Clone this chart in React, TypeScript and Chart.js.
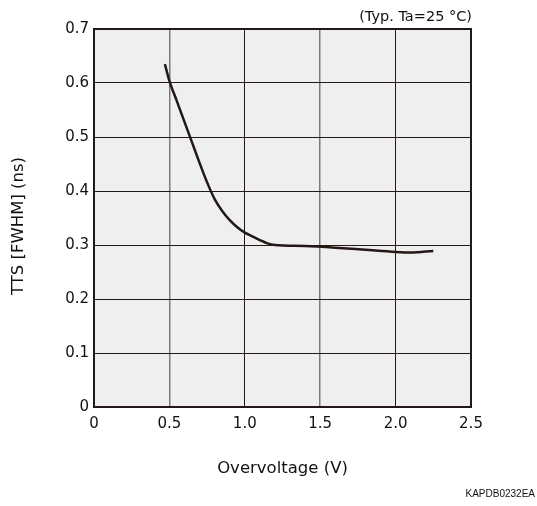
import React, { useEffect, useRef } from "react";
import { Chart, registerables } from "chart.js";

Chart.register(...registerables);

const overvoltage = [0.47, 0.5, 0.55, 0.6, 0.65, 0.7, 0.75, 0.8, 0.85, 0.9, 0.95, 1.0, 1.05, 1.1, 1.15, 1.2, 1.4, 1.6, 1.8, 2.0, 2.1, 2.25];
const ttsFwhm = [0.635, 0.604, 0.566, 0.528, 0.49, 0.452, 0.416, 0.385, 0.363, 0.346, 0.333, 0.323, 0.316, 0.309, 0.303, 0.300, 0.298, 0.295, 0.291, 0.287, 0.286, 0.289];
const xTickLabels = ["0", "0.5", "1.0", "1.5", "2.0", "2.5"];
const yTickLabels = ["0", "0.1", "0.2", "0.3", "0.4", "0.5", "0.6", "0.7"];
const xTitle = "Overvoltage (V)";
const yTitle = "TTS [FWHM] (ns)";
const noteText = "(Typ. Ta=25 °C)";
const codeText = "KAPDB0232EA";

const FONT = "'DejaVu Sans', Verdana, sans-serif";
const DARK = "#231815";

export default function App() {
  const ref = useRef<HTMLCanvasElement>(null);
  useEffect(() => {
    if (!ref.current) return;
    const bgPlugin = {
      id: "bg",
      beforeDraw(chart: any) {
        const { ctx, chartArea: a } = chart;
        ctx.save();
        ctx.fillStyle = "#efefef";
        ctx.fillRect(a.left, a.top, a.right - a.left, a.bottom - a.top);
        ctx.restore();
      },
      afterDatasetsDraw(chart: any) {
        const { ctx, chartArea: a } = chart;
        ctx.save();
        ctx.strokeStyle = DARK;
        ctx.lineWidth = 2;
        ctx.strokeRect(a.left, a.top, a.right - a.left, a.bottom - a.top);
        ctx.fillStyle = "#111";
        ctx.font = `14.5px ${FONT}`;
        ctx.textAlign = "right";
        ctx.textBaseline = "alphabetic";
        ctx.fillText(noteText, a.right + 1, 21);
        ctx.font = `10px 'Liberation Sans Narrow', 'Liberation Sans', sans-serif`;
        ctx.fillText(codeText, 535, 497);
        ctx.font = `16.5px ${FONT}`;
        ctx.textAlign = "center";
        ctx.textBaseline = "middle";
        ctx.fillText(xTitle, (a.left + a.right) / 2, 469);
        ctx.translate(19, 226);
        ctx.rotate(-Math.PI / 2);
        ctx.fillText(yTitle, 0, 0);
        ctx.restore();
      },
    };
    const chart = new Chart(ref.current, {
      type: "line",
      data: {
        datasets: [
          {
            data: overvoltage.map((x, i) => ({ x, y: ttsFwhm[i] })),
            borderColor: DARK,
            borderWidth: 2.5,
            pointRadius: 0,
            cubicInterpolationMode: "monotone",
            fill: false,
          },
        ],
      },
      options: {
        animation: false,
        responsive: false,
        layout: { padding: { left: 0, top: 29, right: 66, bottom: 0 } },
        plugins: { legend: { display: false }, tooltip: { enabled: false } },
        scales: {
          x: {
            type: "linear",
            min: 0,
            max: 2.5,
            afterFit: (s: any) => { s.height = 99; },
            ticks: {
              stepSize: 0.5,
              color: "#111",
              font: { family: FONT, size: 15 },
              padding: 8,
              maxRotation: 0,
              callback: (_v: any, i: number) => xTickLabels[i],
            },
            grid: {
              drawTicks: false,
              color: (c: any) => (c.index % 2 === 1 ? "#7a7a7a" : DARK),
              lineWidth: (c: any) => (c.index % 2 === 1 ? 1.5 : 1),
            },
            border: { display: false },
          },
          y: {
            type: "linear",
            min: 0,
            max: 0.7,
            afterFit: (s: any) => { s.width = 94; },
            ticks: {
              stepSize: 0.1,
              color: "#111",
              font: { family: FONT, size: 15 },
              padding: 5,
              callback: (_v: any, i: number) => yTickLabels[i],
            },
            grid: { drawTicks: false, color: DARK, lineWidth: 1 },
            border: { display: false },
          },
        },
      } as any,
      plugins: [bgPlugin],
    });
    return () => chart.destroy();
  }, []);
  return (
    <div style={{ position: "fixed", left: 0, top: 0, width: 537, height: 506, background: "#fff" }}>
      <canvas ref={ref} width={537} height={506} style={{ width: 537, height: 506, display: "block" }} />
    </div>
  );
}
